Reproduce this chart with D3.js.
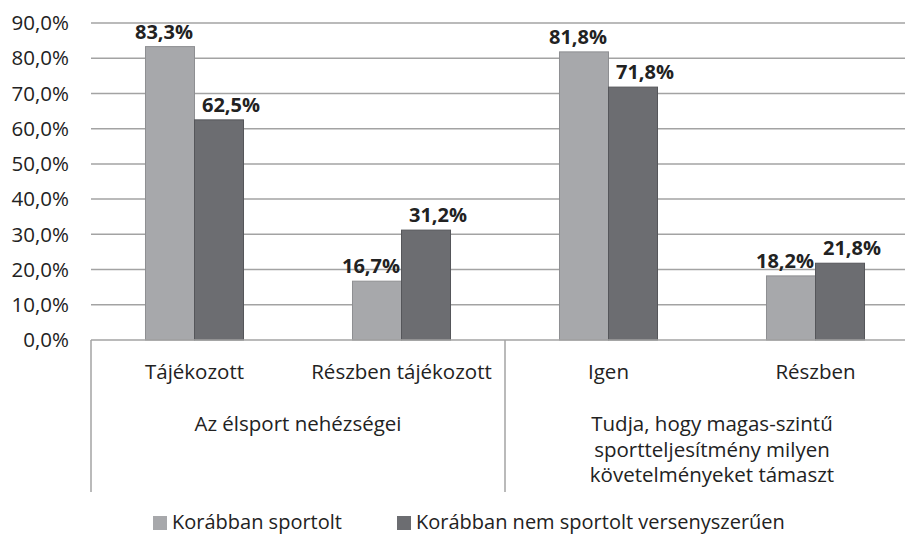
<!DOCTYPE html>
<html>
<head>
<meta charset="utf-8">
<script src="https://cdn.jsdelivr.net/npm/d3@7"></script>
<style>
  body { margin: 0; background: #fff; }
  text { font-family: "Open Sans", Lato, sans-serif; fill: #222; }
</style>
</head>
<body>
<div id="chart"></div>
<script>
// categories and groups
const categories = ['Tájékozott', 'Részben tájékozott', 'Igen', 'Részben'];
const groups = [
  { name: ['Az élsport nehézségei'], from: 0, to: 2 },
  { name: ['Tudja, hogy magas-szintű', 'sportteljesítmény milyen', 'követelményeket támaszt'], from: 2, to: 4 },
];
const seriesNames = ['Korábban sportolt', 'Korábban nem sportolt versenyszerűen'];
const sportolt = [83.3, 16.7, 81.8, 18.2];
const nemSportolt = [62.5, 31.2, 71.8, 21.8];
const yTicks = [0, 10, 20, 30, 40, 50, 60, 70, 80, 90];

const colors = ['#a7a8ab', '#6c6d71'];
const labelShift = [-6, 12];

const width = 905, height = 535;

const svg = d3.select('#chart').append('svg')
    .attr('width', width)
    .attr('height', height);

const y = d3.scaleLinear().domain([0, 90]).range([340, 23]);

const x0 = d3.scaleBand()
    .domain(categories)
    .range([91, 919])
    .padding(0);

const x1 = d3.scaleBand()
    .domain([0, 1])
    .range([0, x0.bandwidth()])
    .paddingInner(0)
    .paddingOuter(1.112);

const fmt = v => d3.format('.1f')(v).replace('.', ',') + '%';

// gridlines
svg.append('g')
    .selectAll('line')
    .data(yTicks.filter(d => d > 0))
    .join('line')
    .attr('x1', 91)
    .attr('x2', 919)
    .attr('y1', d => y(d))
    .attr('y2', d => y(d))
    .attr('stroke', '#a3a3a3')
    .attr('stroke-width', 1.5);

// y tick labels
svg.append('g')
    .selectAll('text')
    .data(yTicks)
    .join('text')
    .attr('x', 69)
    .attr('y', d => y(d))
    .attr('dy', '0.35em')
    .attr('text-anchor', 'end')
    .style('font-size', '20.5px')
    .text(d => fmt(d));

// bars
const rows = categories.map((c, i) => ({ cat: c, vals: [sportolt[i], nemSportolt[i]] }));

const catG = svg.append('g')
    .selectAll('g')
    .data(rows)
    .join('g')
    .attr('transform', d => `translate(${x0(d.cat)},0)`);

catG.selectAll('rect')
    .data(d => d.vals.map((v, s) => ({ v, s })))
    .join('rect')
    .attr('x', d => x1(d.s))
    .attr('width', x1.bandwidth())
    .attr('y', d => y(d.v))
    .attr('height', d => y(0) - y(d.v))
    .attr('fill', d => colors[d.s])
    .attr('stroke', d => d.s === 0 ? '#8e8f92' : '#55565a')
    .attr('stroke-width', 1);

catG.selectAll('text')
    .data(d => d.vals.map((v, s) => ({ v, s })))
    .join('text')
    .attr('x', d => x1(d.s) + x1.bandwidth() / 2 + labelShift[d.s])
    .attr('y', d => y(d.v) - 8)
    .attr('text-anchor', 'middle')
    .style('font-size', '20px')
    .style('font-weight', 'bold')
    .text(d => fmt(d.v));

// x axis line and group separators
svg.append('line')
    .attr('x1', 91).attr('x2', 919)
    .attr('y1', 340).attr('y2', 340)
    .attr('stroke', '#a3a3a3')
    .attr('stroke-width', 1.5);

svg.append('g')
    .selectAll('line')
    .data([0, 2, 4])
    .join('line')
    .attr('x1', d => d < 4 ? x0(categories[d]) : 919)
    .attr('x2', d => d < 4 ? x0(categories[d]) : 919)
    .attr('y1', 340)
    .attr('y2', 492)
    .attr('stroke', '#a3a3a3')
    .attr('stroke-width', 1.5);

// category labels
svg.append('g')
    .selectAll('text')
    .data(categories)
    .join('text')
    .attr('x', d => x0(d) + x0.bandwidth() / 2)
    .attr('y', 379)
    .attr('text-anchor', 'middle')
    .style('font-size', '20.5px')
    .text(d => d);

// group labels
const groupText = svg.append('g')
    .selectAll('text')
    .data(groups)
    .join('text')
    .attr('text-anchor', 'middle')
    .style('font-size', '20.5px');

groupText.selectAll('tspan')
    .data(g => g.name.map(line => ({ line, cx: (x0(categories[g.from]) + x0(categories[g.to - 1]) + x0.bandwidth()) / 2 })))
    .join('tspan')
    .attr('x', d => d.cx)
    .attr('y', (d, i) => 431 + i * 25.5)
    .text(d => d.line);

// legend
const legendX = [153, 397];
const legend = svg.append('g')
    .selectAll('g')
    .data(seriesNames)
    .join('g')
    .attr('transform', (d, i) => `translate(${legendX[i]},516)`);

legend.append('rect')
    .attr('width', 14)
    .attr('height', 14)
    .attr('fill', (d, i) => colors[i]);

legend.append('text')
    .attr('x', 19)
    .attr('y', 13)
    .style('font-size', '20px')
    .text(d => d);
</script>
</body>
</html>
